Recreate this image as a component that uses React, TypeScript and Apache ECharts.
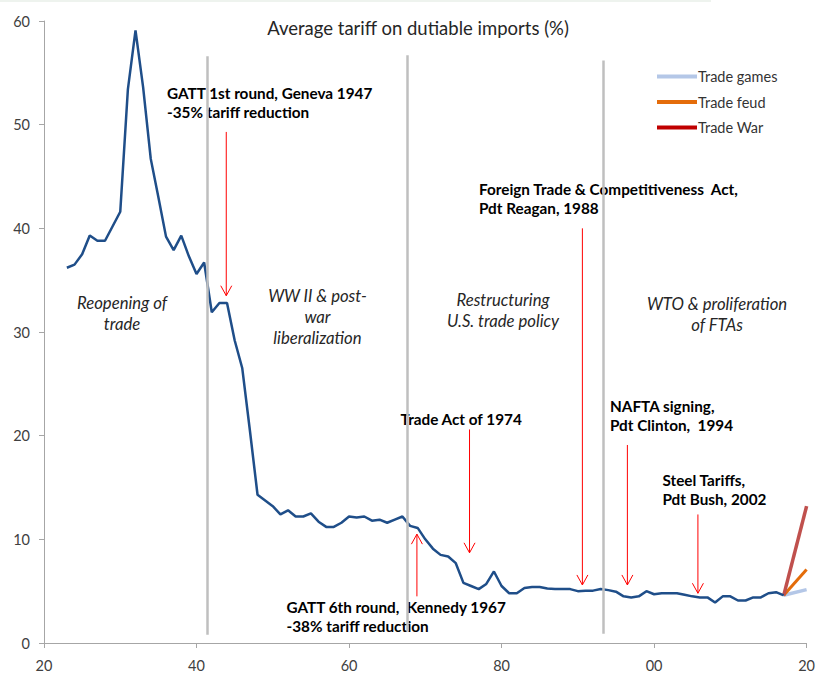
import React, { useEffect, useRef } from "react";
import * as echarts from "echarts";

const TITLE = "Average tariff on dutiable imports (%)";

const FIRST_YEAR = 1923;
const TARIFF = [
  36.2, 36.5, 37.5, 39.3, 38.8, 38.8, 40.2, 41.6, 53.4, 59.1, // 1923-1932
  53.6, 46.7, 43.0, 39.2, 37.9, 39.3, 37.3, 35.6, 36.7, 31.9, // 1933-1942
  32.8, 32.8, 29.2, 26.5, 20.5, 14.3, 13.75, 13.2, 12.4, 12.8, // 1943-1952
  12.2, 12.2, 12.5, 11.7, 11.2, 11.2, 11.6, 12.2, 12.1, 12.2, // 1953-1962
  11.8, 11.9, 11.6, 11.9, 12.2, 11.3, 11.1, 10.0, 9.1, 8.5, // 1963-1972
  8.35, 7.7, 5.8, 5.5, 5.2, 5.7, 6.9, 5.5, 4.8, 4.8, // 1973-1982
  5.3, 5.4, 5.4, 5.25, 5.2, 5.2, 5.2, 5.0, 5.05, 5.05, // 1983-1992
  5.2, 5.1, 4.95, 4.5, 4.4, 4.5, 5.0, 4.7, 4.8, 4.8, // 1993-2002
  4.8, 4.65, 4.5, 4.4, 4.4, 3.9, 4.5, 4.5, 4.1, 4.1, // 2003-2012
  4.4, 4.4, 4.8, 4.9, 4.6, // 2013-2017
];
const YEARS = TARIFF.map((_, i) => FIRST_YEAR + i);

const SCENARIO_YEARS = [2017, 2020];
const TRADE_GAMES = [4.6, 5.15];
const TRADE_FEUD = [4.6, 7.1];
const TRADE_WAR = [4.6, 13.2];

const X_TICKS = [1920, 1940, 1960, 1980, 2000, 2020];

// era dividers (year, bottom value, top value)
const DIVIDERS = [
  [1941.4, 0.8, 56.6],
  [1967.6, 1.1, 56.7],
  [1993.4, 0.9, 56.2],
];

// annotation arrows (year, start value, head value)
const ARROW_ANCHORS = [
  [1943.9, 49.3, 33.5],
  [1975.8, 20.6, 8.7],
  [1990.6, 40.0, 5.6],
  [1996.5, 19.1, 5.6],
  [2005.75, 12.4, 4.8],
  [1968.9, 4.5, 10.5],
];

const BOLD_NOTES = [
  { text: "GATT 1st round, Geneva 1947\n-35% tariff reduction", x: 167, y: 83.5 },
  { text: "Foreign Trade & Competitiveness  Act,\nPdt Reagan, 1988", x: 479, y: 179 },
  { text: "Trade Act of 1974", x: 400.5, y: 409 },
  { text: "NAFTA signing,\nPdt Clinton,  1994", x: 610, y: 396.5 },
  { text: "Steel Tariffs,\nPdt Bush, 2002", x: 662.5, y: 470.5 },
  { text: "GATT 6th round,  Kennedy 1967\n-38% tariff reduction", x: 286.5, y: 597 },
];

const ERA_NOTES = [
  { text: "Reopening of\ntrade", x: 122, y: 292.5 },
  { text: "WW II & post-\nwar\nliberalization", x: 317.5, y: 285.5 },
  { text: "Restructuring\nU.S. trade policy", x: 503, y: 289.5 },
  { text: "WTO & proliferation\nof FTAs", x: 717, y: 293 },
];

const FONT = "Lato, 'Open Sans', sans-serif";

export default function App() {
  const ref = useRef<HTMLDivElement>(null);

  useEffect(() => {
    const chart = echarts.init(ref.current!, null, { renderer: "svg" });
    const pair = (xs: number[], ys: number[]) => xs.map((x, i) => [x, ys[i]]);

    chart.setOption({
      animation: false,
      textStyle: { fontFamily: FONT },
      grid: { left: 44, right: 11, top: 21, bottom: 30, containLabel: false },
      legend: {
        orient: "vertical",
        left: 657,
        top: 69,
        padding: 0,
        icon: "rect",
        itemWidth: 40,
        itemHeight: 4,
        itemGap: 10.5,
        textStyle: { fontFamily: FONT, fontSize: 14.5, color: "#333", padding: [0, 0, 0, -4] },
        data: [
          { name: "Trade games", itemStyle: { color: "#b4c7e7" } },
          { name: "Trade feud", itemStyle: { color: "#e46c0a" } },
          { name: "Trade War", itemStyle: { color: "#c00000" } },
        ],
      },
      xAxis: {
        type: "value",
        min: 1920,
        max: 2020,
        interval: 20,
        splitLine: { show: false },
        axisLine: { lineStyle: { color: "#a6a6a6", width: 1 } },
        axisTick: { show: true, length: 5, lineStyle: { color: "#a6a6a6" } },
        axisLabel: {
          margin: 15,
          fontSize: 14.5,
          color: "#404040",
          fontFamily: FONT,
          formatter: (v: number) => (X_TICKS.includes(v) ? String(v % 100).padStart(2, "0") : ""),
        },
      },
      yAxis: {
        type: "value",
        min: 0,
        max: 60,
        interval: 10,
        splitLine: { show: false },
        axisLine: { show: true, lineStyle: { color: "#a6a6a6", width: 1 } },
        axisTick: { show: true, length: 5, lineStyle: { color: "#a6a6a6" } },
        axisLabel: { margin: 14, fontSize: 14.5, color: "#404040", fontFamily: FONT },
      },
      series: [
        {
          name: "Average tariff",
          type: "line",
          data: pair(YEARS, TARIFF),
          symbol: "none",
          lineStyle: { color: "#1f4e89", width: 2.5 },
          itemStyle: { color: "#1f4e89" },
          z: 3,
          markLine: {
            silent: true,
            symbol: ["none", "none"],
            label: { show: false },
            lineStyle: { color: "#bfbfbf", width: 2.5, type: "solid" },
            z: 5,
            data: DIVIDERS.map(([x, y0, y1]) => [{ coord: [x, y0] }, { coord: [x, y1] }]),
          },
        },
        {
          name: "Trade games",
          type: "line",
          data: pair(SCENARIO_YEARS, TRADE_GAMES),
          symbol: "none",
          lineStyle: { color: "#b4c7e7", width: 3.5 },
          itemStyle: { color: "#b4c7e7" },
          z: 2,
        },
        {
          name: "Trade feud",
          type: "line",
          data: pair(SCENARIO_YEARS, TRADE_FEUD),
          symbol: "none",
          lineStyle: { color: "#e46c0a", width: 3 },
          itemStyle: { color: "#e46c0a" },
          z: 2,
        },
        {
          name: "Trade War",
          type: "line",
          data: pair(SCENARIO_YEARS, TRADE_WAR),
          symbol: "none",
          lineStyle: { color: "#c0504d", width: 3.5 },
          itemStyle: { color: "#c0504d" },
          z: 2,
        },
      ],
    });

    const toPx = (x: number, y: number) =>
      chart.convertToPixel({ xAxisIndex: 0, yAxisIndex: 0 }, [x, y]) as number[];

    const arrows: any[] = [];
    ARROW_ANCHORS.forEach(([x, from, to]) => {
      const p1 = toPx(x, from);
      const p2 = toPx(x, to);
      const dir = p2[1] > p1[1] ? 1 : -1;
      arrows.push({
        type: "line",
        z: 10,
        shape: { x1: p1[0], y1: p1[1], x2: p2[0], y2: p2[1] },
        style: { stroke: "#ff0000", lineWidth: 1 },
      });
      arrows.push({
        type: "polyline",
        z: 10,
        shape: {
          points: [
            [p2[0] - 5.5, p2[1] - 10 * dir],
            [p2[0], p2[1]],
            [p2[0] + 5.5, p2[1] - 10 * dir],
          ],
        },
        style: { stroke: "#ff0000", lineWidth: 1, fill: null },
      });
    });

    const texts: any[] = [
      {
        type: "rect",
        z: 0,
        shape: { x: 0, y: 0, width: 711, height: 2 },
        style: { fill: "#eef3ee" },
      },
      {
        type: "text",
        z: 0,
        x: 418,
        y: 27.5,
        style: {
          text: TITLE,
          font: `18.5px ${FONT}`,
          fill: "#262626",
          align: "center",
          verticalAlign: "middle",
        },
      },
      ...BOLD_NOTES.map((n) => ({
        type: "text",
        z: 0,
        x: n.x,
        y: n.y,
        style: {
          text: n.text,
          font: `bold 15.3px ${FONT}`,
          fill: "#000",
          align: "left",
          verticalAlign: "top",
          lineHeight: 19,
        },
      })),
      ...ERA_NOTES.map((n) => ({
        type: "text",
        z: 0,
        x: n.x,
        y: n.y,
        style: {
          text: n.text,
          font: `italic 16.7px ${FONT}`,
          fill: "#262626",
          align: "center",
          verticalAlign: "top",
          lineHeight: 21,
        },
      })),
    ];

    chart.setOption({ graphic: [...texts, ...arrows] });

    return () => chart.dispose();
  }, []);

  return (
    <div
      ref={ref}
      style={{ position: "fixed", left: 0, top: 0, width: 818, height: 673, background: "#fff" }}
    />
  );
}
